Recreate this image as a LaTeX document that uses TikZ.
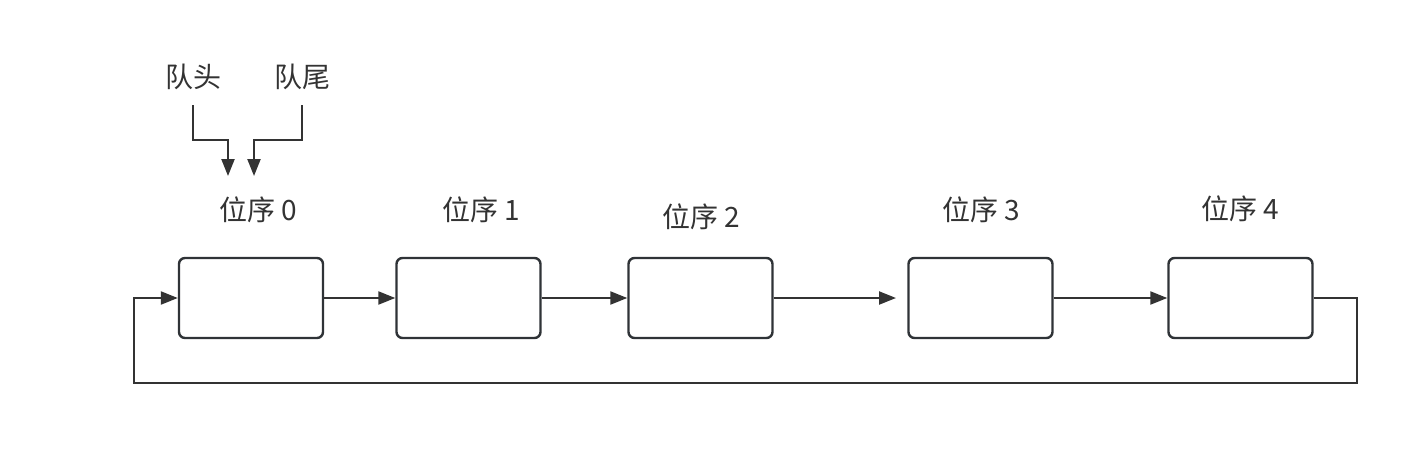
\documentclass[tikz,border=0pt]{standalone}
\usepackage{fontspec}
\setmainfont{Noto Sans CJK SC}
\usetikzlibrary{arrows.meta}
\definecolor{ink}{HTML}{333333}
\definecolor{boxc}{HTML}{2F3337}
\tikzset{
  cell/.style={draw=boxc, line width=2.4pt, rounded corners=6pt, minimum width=144pt, minimum height=80pt, inner sep=0pt},
  lbl/.style={text=ink, font=\fontsize{28}{32}\selectfont, inner sep=0pt},
  conn/.style={draw=ink, line width=2.2pt, -{Triangle[length=17pt,width=13pt]}},
}
\begin{document}
\begin{tikzpicture}[x=1pt,y=-1pt]
\useasboundingbox (0,0) rectangle (1414,475);
\node[cell] (b0) at (251,298) {};
\node[cell] (b1) at (468.5,298) {};
\node[cell] (b2) at (700.5,298) {};
\node[cell] (b3) at (980.5,298) {};
\node[cell] (b4) at (1240.5,298) {};
\node[lbl] (l0) at (258,210) {位序 0};
\node[lbl] (l1) at (481,210) {位序 1};
\node[lbl] (l2) at (701,217) {位序 2};
\node[lbl] (l3) at (981,210) {位序 3};
\node[lbl] (l4) at (1240,209) {位序 4};
\node[lbl] (qh) at (193,77) {队头};
\node[lbl] (qt) at (302,77) {队尾};
\coordinate (h0) at (193,105);
\coordinate (h1) at (193,140);
\coordinate (h2) at (228,140);
\coordinate (h3) at (228,176);
\coordinate (t0) at (302,105);
\coordinate (t1) at (302,140);
\coordinate (t2) at (254,140);
\coordinate (t3) at (254,176);
\draw[conn] (h0) -- (h1) -- (h2) -- (h3);
\draw[conn] (t0) -- (t1) -- (t2) -- (t3);
\draw[conn] (b0.east) -- (b1.west);
\draw[conn] (b1.east) -- (b2.west);
\coordinate (g3) at (896,298);
\draw[conn] (b2.east) -- (g3);
\draw[conn] (b3.east) -- (b4.west);
\coordinate (r1) at (1357,298);
\coordinate (r2) at (1357,383);
\coordinate (r3) at (134,383);
\coordinate (r4) at (134,298);
\draw[conn] (b4.east) -- (r1) -- (r2) -- (r3) -- (r4) -- (b0.west);
\end{tikzpicture}
\end{document}
